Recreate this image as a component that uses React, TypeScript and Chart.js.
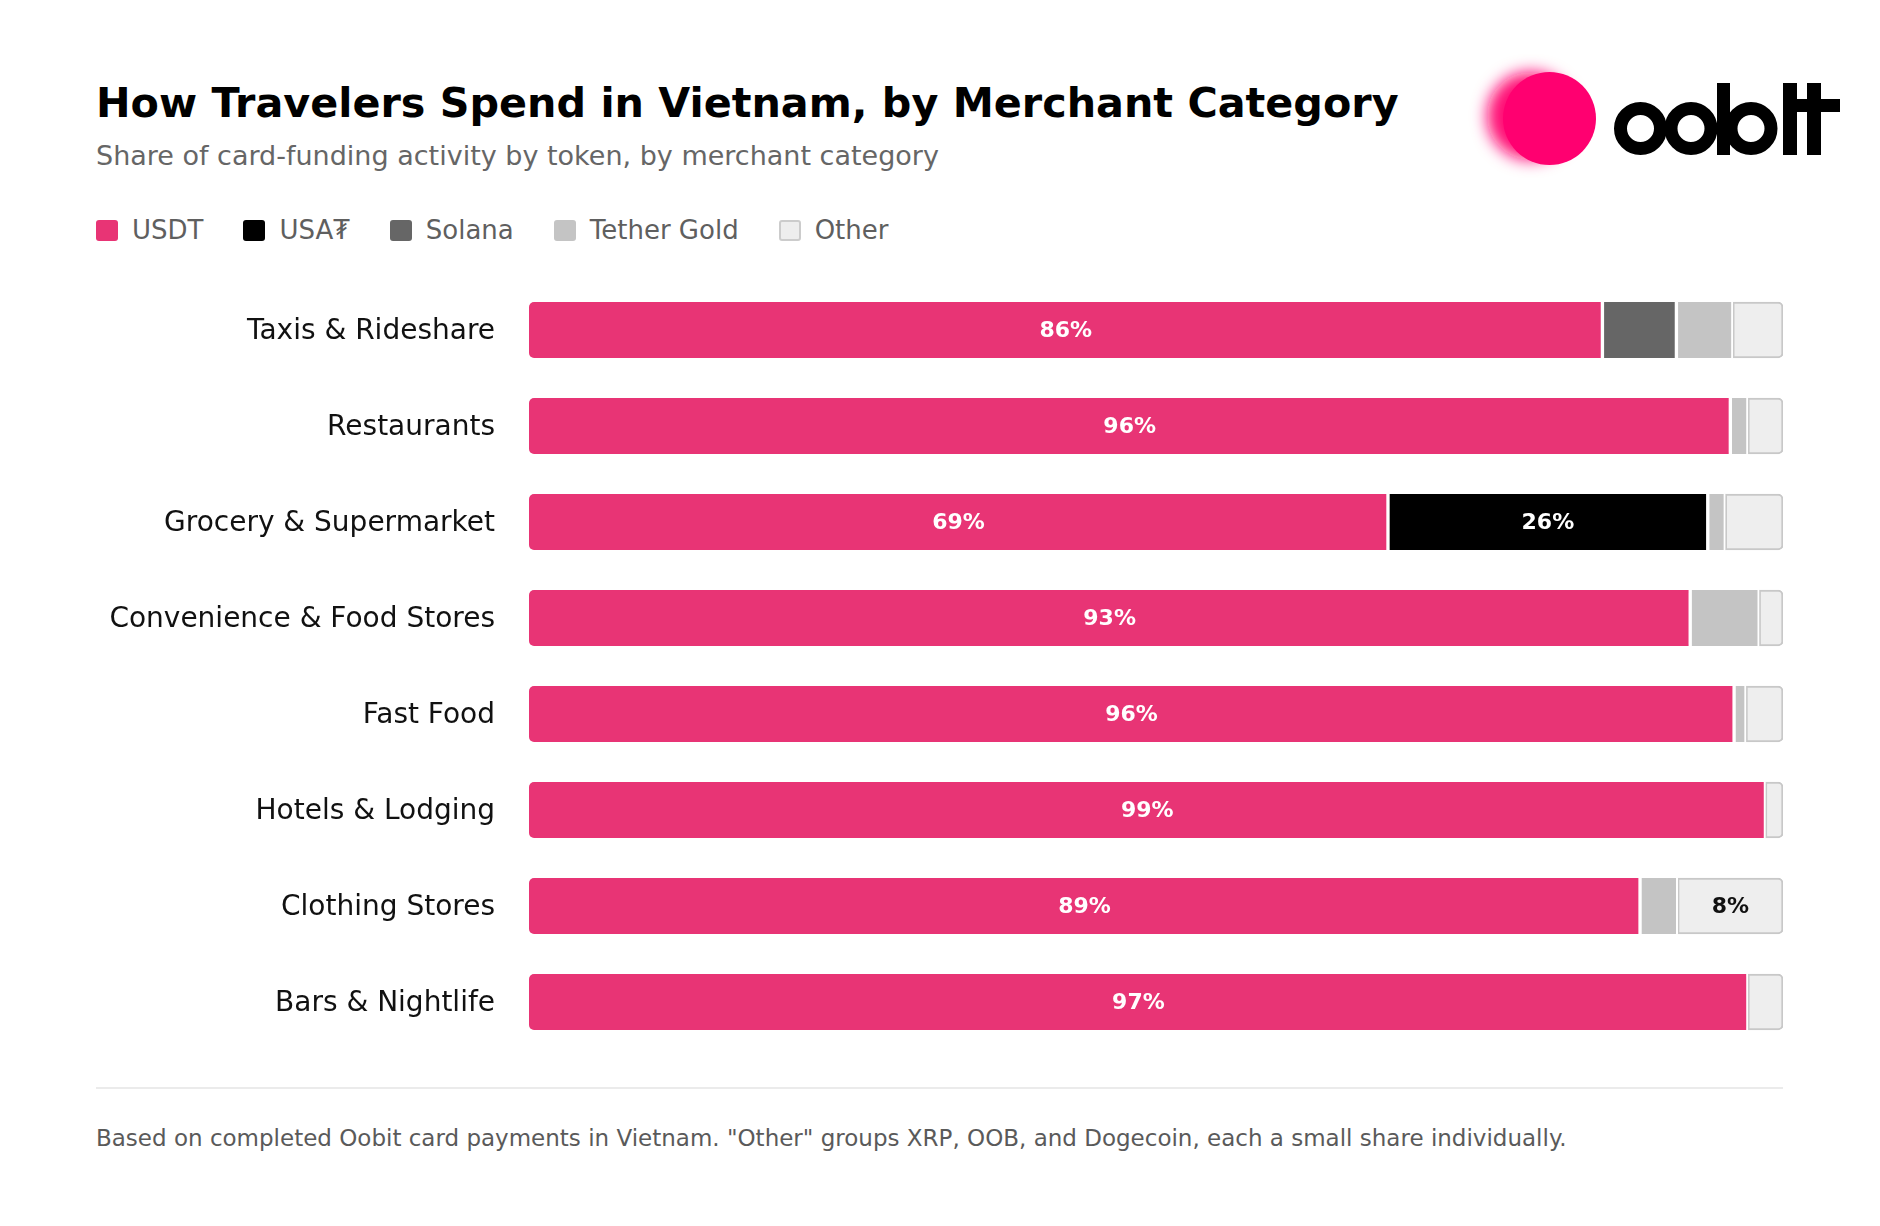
import React, { useEffect, useRef } from 'react';
import { Chart, registerables } from 'chart.js';

Chart.register(...registerables);

const FONT = '"DejaVu Sans", "Noto Sans", sans-serif';

const categories = [
  'Taxis & Rideshare',
  'Restaurants',
  'Grocery & Supermarket',
  'Convenience & Food Stores',
  'Fast Food',
  'Hotels & Lodging',
  'Clothing Stores',
  'Bars & Nightlife',
];

// share of card funding, in %
const usdt = [85.6, 95.8, 68.5, 92.6, 96.1, 98.6, 88.6, 97.2];
const usat = [null, null, 25.5, null, null, null, null, null];
const solana = [5.9, null, null, null, null, null, null, null];
const tetherGold = [4.5, 1.4, 1.4, 5.5, 0.95, null, 3.0, null];
const other = [4.0, 2.8, 4.6, 1.9, 2.95, 1.4, 8.4, 2.8];

const tokens = ['USDT', 'USA₮', 'Solana', 'Tether Gold', 'Other'];
const tokenColors = ['#E83475', '#000000', '#666666', '#C4C4C4', '#EEEEEE'];
const labelColors = ['#FFFFFF', '#FFFFFF', '#FFFFFF', '#111111', '#111111'];
const series = [usdt, usat, solana, tetherGold, other];

const LABEL_MIN = 8;

const segmentLabels = {
  id: 'segmentLabels',
  afterDatasetsDraw(chart: any) {
    const { ctx } = chart;
    ctx.save();
    ctx.font = `bold 22px ${FONT}`;
    ctx.textAlign = 'center';
    ctx.textBaseline = 'middle';
    chart.data.datasets.forEach((ds: any, i: number) => {
      const meta = chart.getDatasetMeta(i);
      meta.data.forEach((bar: any, j: number) => {
        const v = ds.data[j];
        if (v == null || v < LABEL_MIN) return;
        const { x, y } = bar.getCenterPoint();
        ctx.fillStyle = labelColors[i];
        ctx.fillText(`${Math.round(v)}%`, x, y + 1.5);
      });
    });
    ctx.restore();
  },
};

const TokenChart: React.FC = () => {
  const canvasRef = useRef<HTMLCanvasElement | null>(null);

  useEffect(() => {
    if (!canvasRef.current) return;
    const last = tokens.length - 1;
    const chart = new Chart(canvasRef.current, {
      type: 'bar',
      data: {
        labels: categories,
        datasets: tokens.map((label, i) => ({
          label,
          data: series[i],
          backgroundColor: tokenColors[i],
          borderColor: i === last ? '#C8C8C8' : '#FFFFFF',
          borderWidth: i === last ? 2 : { left: i === 0 ? 0 : 2, right: 2, top: 0, bottom: 0 },
          borderSkipped: false,
          borderRadius:
            i === 0
              ? { topLeft: 5, bottomLeft: 5, topRight: 0, bottomRight: 0 }
              : i === last
              ? { topLeft: 0, bottomLeft: 0, topRight: 5, bottomRight: 5 }
              : 0,
          barThickness: 56,
        })) as any,
      },
      options: {
        indexAxis: 'y',
        animation: false,
        responsive: true,
        maintainAspectRatio: false,
        layout: { padding: { left: 0, right: 17, top: 0, bottom: 0 } },
        scales: {
          x: { stacked: true, min: 0, max: 100, display: false },
          y: {
            stacked: true,
            grid: { display: false, drawTicks: false },
            border: { display: false },
            ticks: {
              color: '#111111',
              padding: 34,
              labelOffset: 2,
              font: { family: FONT, size: 28 },
            },
            afterFit: (scale: any) => {
              // fixed label column; rows use the full canvas height
              scale.width = 529;
              scale.paddingTop = 0;
              scale.paddingBottom = 0;
            },
          },
        },
        plugins: {
          legend: { display: false },
          tooltip: { enabled: false },
        },
      },
      plugins: [segmentLabels],
    });
    return () => chart.destroy();
  }, []);

  return (
    <div style={{ position: 'absolute', left: 0, top: 282, width: 1800, height: 768 }}>
      <canvas ref={canvasRef}></canvas>
    </div>
  );
};

const Logo: React.FC = () => (
  <svg
    style={{ position: 'absolute', left: 1440, top: 30 }}
    width={420}
    height={170}
    viewBox="1440 30 420 170"
  >
    <defs>
      <filter id="dotBlur" x="-50%" y="-50%" width="200%" height="200%">
        <feGaussianBlur stdDeviation="8" />
      </filter>
    </defs>
    <circle cx={1531} cy={116} r={44} fill="#FF0A74" filter="url(#dotBlur)" />
    <circle cx={1549.5} cy={118.5} r={46.5} fill="#FF0070" />
    <g fill="none" stroke="#000" strokeWidth={13}>
      <circle cx={1640.5} cy={128.5} r={20} />
      <circle cx={1691} cy={128.5} r={20} />
      <circle cx={1751} cy={128.5} r={20} />
    </g>
    <g fill="#000">
      <rect x={1717} y={83} width={13} height={72} />
      <rect x={1783} y={83} width={14} height={72} />
      <rect x={1807} y={83} width={14} height={72} />
      <rect x={1797} y={99} width={43} height={13} />
    </g>
  </svg>
);

const App: React.FC = () => {
  return (
    <div style={{ fontFamily: FONT }}>
      <div
        style={{
          position: 'absolute',
          left: 96,
          top: 83,
          fontSize: 41.3,
          lineHeight: '41px',
          fontWeight: 'bold',
          color: '#000',
          whiteSpace: 'nowrap',
        }}
      >
        How Travelers Spend in Vietnam, by Merchant Category
      </div>
      <div
        style={{
          position: 'absolute',
          left: 96,
          top: 141.5,
          fontSize: 27,
          lineHeight: '27px',
          color: '#666',
          whiteSpace: 'nowrap',
        }}
      >
        Share of card-funding activity by token, by merchant category
      </div>
      <Logo />
      <div
        style={{
          position: 'absolute',
          left: 96,
          top: 217,
          display: 'flex',
          gap: 40,
          fontSize: 26,
          lineHeight: '26px',
          color: '#5f5f5f',
          whiteSpace: 'nowrap',
        }}
      >
        {tokens.map((t, i) => (
          <div key={t} style={{ display: 'flex', alignItems: 'center' }}>
            <span
              style={{
                display: 'inline-block',
                width: 22,
                height: 21,
                boxSizing: 'border-box',
                background: tokenColors[i],
                border: i === tokens.length - 1 ? '2px solid #CCCCCC' : 'none',
                borderRadius: 3,
                marginRight: 14,
              }}
            />
            {t}
          </div>
        ))}
      </div>
      <TokenChart />
      <div
        style={{
          position: 'absolute',
          left: 96,
          top: 1087,
          width: 1687,
          height: 2,
          background: '#EBEBEB',
        }}
      />
      <div
        style={{
          position: 'absolute',
          left: 96,
          top: 1127,
          fontSize: 23,
          lineHeight: '23px',
          color: '#5a5a5a',
          whiteSpace: 'nowrap',
        }}
      >
        Based on completed Oobit card payments in Vietnam. "Other" groups XRP, OOB, and Dogecoin, each a small
        share individually.
      </div>
    </div>
  );
};

export default App;
